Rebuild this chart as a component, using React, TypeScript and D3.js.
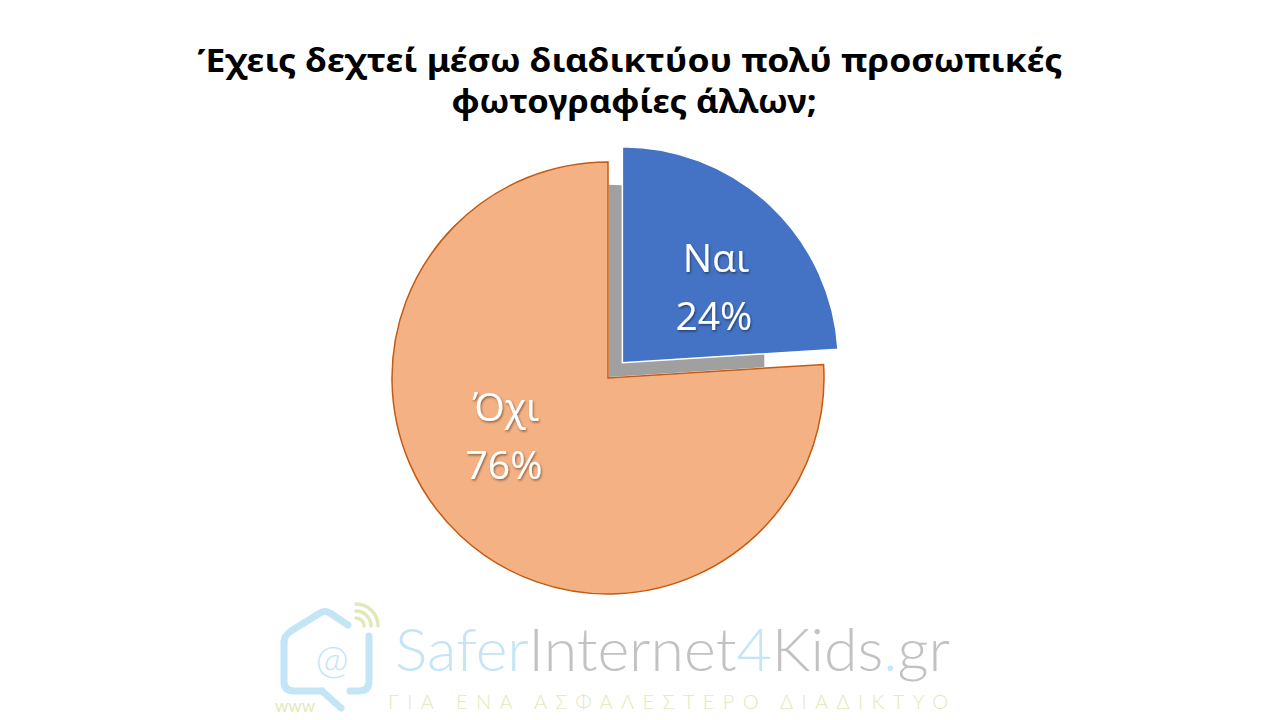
import React from "react";
import * as d3 from "d3";

const categories = ["Ναι", "Όχι"];
const values = [24, 76];
const percentLabels = ["24%", "76%"];
const titleLines = [
  "Έχεις δεχτεί μέσω διαδικτύου πολύ προσωπικές",
  "φωτογραφίες άλλων;",
];

const W = 1280;
const H = 720;
const cx = 608;
const cy = 378;
const R = 216;
const EXPLODE = 21;
const fills = ["#4472C4", "#F4B183"];
const strokes = ["#FFFFFF", "#C55A11"];
const explodeBy = [EXPLODE, 0];
// label placement (angle shift in radians, radius) relative to each slice's own center
const labelPlacement = [
  { angleShift: 0.14, radius: 120 },
  { angleShift: 0.29, radius: 118 },
];

export default function App() {
  const pie = d3
    .pie<number>()
    .sort(null)
    .startAngle(0)
    .endAngle(2 * Math.PI)
    .value((d) => d);
  const arcs = pie(values);
  const arcGen = d3.arc<d3.PieArcDatum<number>>().innerRadius(0).outerRadius(R);

  const first = arcs[0];
  const shadowR = R * 0.89;
  const shadowArc = d3
    .arc<d3.PieArcDatum<number>>()
    .innerRadius(0)
    .outerRadius(shadowR)(first) as string;

  return (
    <svg
      width={W}
      height={H}
      viewBox={`0 0 ${W} ${H}`}
      style={{ position: "absolute", left: 0, top: 0, background: "#fff" }}
    >
      <defs>
        <filter id="tshadow" x="-20%" y="-20%" width="140%" height="140%">
          <feDropShadow dx="1" dy="1.5" stdDeviation="1" floodColor="#000" floodOpacity="0.45" />
        </filter>
        <clipPath id="shadowClip">
          <rect x={cx - 10} y={cy - R} width={R * 0.77} height={R + 2} />
        </clipPath>
      </defs>

      {/* Title */}
      <g fontFamily="'Noto Sans', 'Open Sans', sans-serif" fontWeight="bold" fill="#000" textAnchor="middle">
        <text x={630} y={72} fontSize={32} textLength={865} lengthAdjust="spacingAndGlyphs">
          {titleLines[0]}
        </text>
        <text x={634} y={113} fontSize={32} textLength={365} lengthAdjust="spacingAndGlyphs">
          {titleLines[1]}
        </text>
      </g>

      {/* Shadow of exploded slice */}
      <g clipPath="url(#shadowClip)">
        <path d={shadowArc} transform={`translate(${cx + 1},${cy - 1})`} fill="#A0A0A0" />
      </g>

      {/* Slices: draw non-exploded first */}
      {[1, 0].map((i) => {
        const a = arcs[i];
        const mid = (a.startAngle + a.endAngle) / 2;
        const ox = Math.sin(mid) * explodeBy[i];
        const oy = -Math.cos(mid) * explodeBy[i];
        return (
          <path
            key={categories[i]}
            d={arcGen(a) as string}
            transform={`translate(${cx + ox},${cy + oy})`}
            fill={fills[i]}
            stroke={strokes[i]}
            strokeWidth={1.5}
            strokeLinejoin="miter"
          />
        );
      })}

      {/* Labels */}
      {arcs.map((a, i) => {
        const mid = (a.startAngle + a.endAngle) / 2;
        const ox = Math.sin(mid) * explodeBy[i];
        const oy = -Math.cos(mid) * explodeBy[i];
        const ang = mid + labelPlacement[i].angleShift;
        const lx = cx + ox + Math.sin(ang) * labelPlacement[i].radius;
        const ly = cy + oy - Math.cos(ang) * labelPlacement[i].radius;
        return (
          <g
            key={"lbl" + categories[i]}
            fontFamily="'Open Sans', 'Noto Sans', sans-serif"
            fontSize={39}
            fill="#fff"
            textAnchor="middle"
            filter="url(#tshadow)"
          >
            <text x={lx} y={ly - 16}>
              {categories[i]}
            </text>
            <text x={lx - 2} y={ly + 42}>
              {percentLabels[i]}
            </text>
          </g>
        );
      })}

      {/* Watermark logo */}
      <g>
        <g fill="none" stroke="#C3E5F6" strokeWidth={7} strokeLinecap="round" strokeLinejoin="round">
          <path d="M 284 642 L 284 681 Q 284 691 294 691 L 322 691" />
          <path d="M 284 642 Q 284 636 291 631 L 320 613 Q 325 610 330 613 L 348 625" />
          <path d="M 369 636 L 369 681 Q 369 691 359 691 L 350 691" />
          <path d="M 322 691 L 341 708" />
        </g>
        <g fill="none" stroke="#DFEAB8" strokeWidth={3.5} strokeLinecap="round">
          <path d="M 356 618 A 8 8 0 0 1 364 626" />
          <path d="M 356 611 A 15 15 0 0 1 371 626" />
          <path d="M 356 604 A 22 22 0 0 1 378 626" />
        </g>
        <text x={332} y={674} fontFamily="'Lato', 'Open Sans', sans-serif" fontWeight={300} fontSize={40} fill="#C3E5F6" textAnchor="middle">
          @
        </text>
        <text x={295} y={712} fontFamily="'Lato', sans-serif" fontSize={17} fill="#DFEAB8" textAnchor="middle">
          www
        </text>
        <text x={395} y={671} fontFamily="'Lato', 'Open Sans', sans-serif" fontWeight={300} fontSize={60} textLength={555} lengthAdjust="spacingAndGlyphs">
          <tspan fill="#C3E5F6">Safer</tspan>
          <tspan fill="#C2C2C2">Internet</tspan>
          <tspan fill="#C3E5F6">4</tspan>
          <tspan fill="#C2C2C2">Kids</tspan>
          <tspan fill="#C3E5F6">.</tspan>
          <tspan fill="#C2C2C2">gr</tspan>
        </text>
        <text x={388} y={709} fontFamily="'Lato', 'Open Sans', sans-serif" fontWeight={300} fontSize={20} fill="#DFEAB8" textLength={560} lengthAdjust="spacing">
          ΓΙΑ ΕΝΑ ΑΣΦΑΛΕΣΤΕΡΟ ΔΙΑΔΙΚΤΥΟ
        </text>
      </g>
    </svg>
  );
}
